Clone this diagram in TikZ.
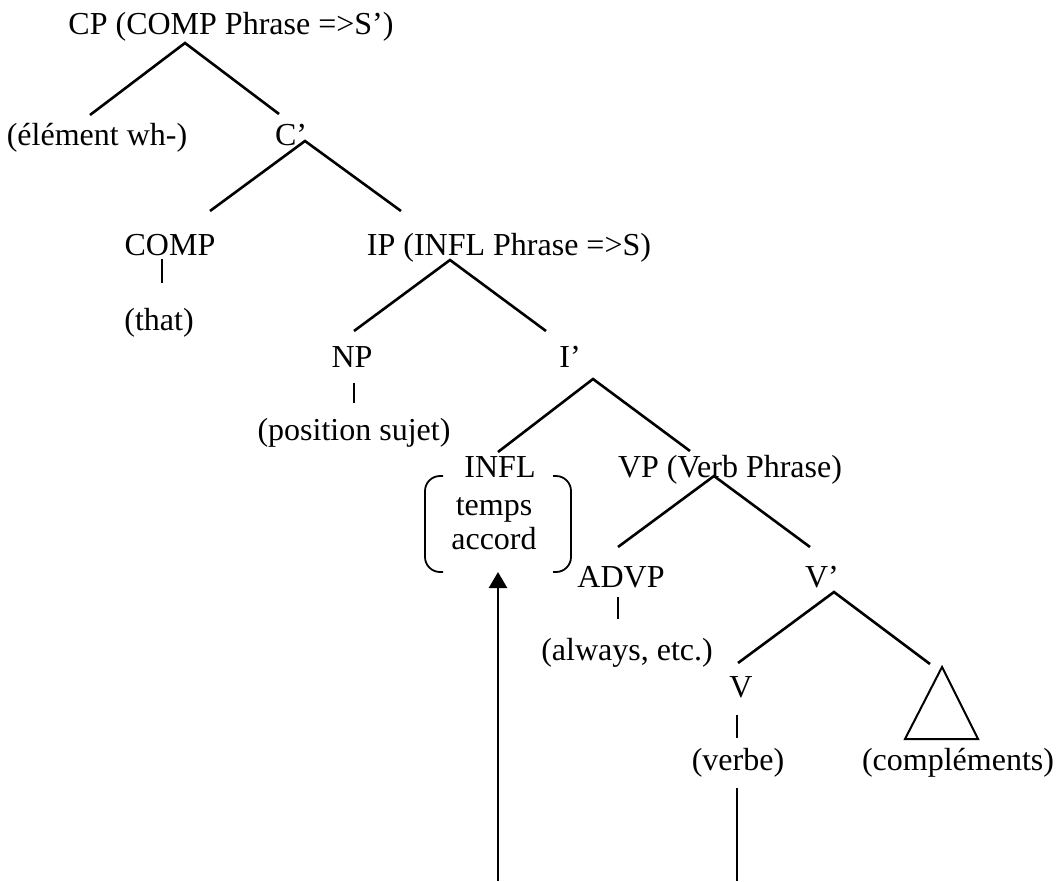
\documentclass[tikz,border=0pt]{standalone}
\usepackage{fontspec}
\setmainfont{Liberation Serif}
\usepackage{tikz}
\usetikzlibrary{arrows.meta,positioning}
\tikzset{
    >={Triangle[width=18pt,length=16pt]},
    cat/.style={
           inner sep=0pt,
           anchor=base,
           font=\fontsize{32}{38}\selectfont},
    branche/.style={
           line width=2.6pt},
    crochet/.style={
           line width=1.8pt,
           rounded corners=15pt},
    fleche/.style={
           ->,
           line width=2.6pt}
}
\begin{document}
\begin{tikzpicture}[x=1pt, y=-1pt]
        \useasboundingbox (0,0) rectangle (1062,881);
        \node[cat] (cp) at (231,34) {CP (COMP Phrase =>S’)};
        \node[cat] (elem) at (97,145) {(élément wh-)};
        \node[cat] (cbar) at (291,145) {C’};
        \node[cat] (comp) at (170,255) {COMP};
        \node[cat] (that) at (159,330) {(that)};
        \node[cat] (ip) at (509,255) {IP (INFL Phrase =>S)};
        \node[cat] (np) at (352,367) {NP};
        \node[cat] (ibar) at (570,367) {I’};
        \node[cat] (pos) at (354,440) {(position sujet)};
        \node[cat] (infl) at (500,477) {INFL};
        \node[cat] (temps) at (494,515) {temps};
        \node[cat] (accord) at (494,549) {accord};
        \node[cat] (vp) at (730,477) {VP (Verb Phrase)};
        \node[cat] (advp) at (621,587) {ADVP};
        \node[cat] (vbar) at (822,587) {V’};
        \node[cat] (always) at (627,660) {(always, etc.)};
        \node[cat] (v) at (741,697) {V};
        \node[cat] (verbe) at (738,770) {(verbe)};
        \node[cat] (compl) at (958,770) {(compléments)};

        % points d'attache des branches
        \coordinate (cp-j) at (185,43);
        \coordinate (elem-j) at (90,115);
        \coordinate (cbar-t) at (279,114);
        \coordinate (cbar-j) at (305,141);
        \coordinate (comp-t) at (210,211);
        \coordinate (ip-t) at (401,211);
        \coordinate (ip-j) at (450,260);
        \coordinate (np-t) at (354,331);
        \coordinate (ibar-t) at (546,331);
        \coordinate (ibar-j) at (593,379);
        \coordinate (infl-t) at (498,452);
        \coordinate (vp-t) at (690,451);
        \coordinate (vp-j) at (714,476);
        \coordinate (advp-t) at (618,547);
        \coordinate (vbar-t) at (810,547);
        \coordinate (vbar-j) at (834,592);
        \coordinate (v-t) at (738,663);
        \coordinate (tri-t) at (930,664);
        \coordinate (infl-b) at (498,572);
        \coordinate (infl-src) at (498,881);
        \coordinate (verbe-b) at (737,788);
        \coordinate (verbe-src) at (737,881);

        \draw[branche] (elem-j) -- (cp-j) -- (cbar-t);
        \draw[branche] (comp-t) -- (cbar-j) -- (ip-t);
        \draw[branche] (np-t) -- (ip-j) -- (ibar-t);
        \draw[branche] (infl-t) -- (ibar-j) -- (vp-t);
        \draw[branche] (advp-t) -- (vp-j) -- (vbar-t);
        \draw[branche] (v-t) -- (vbar-j) -- (tri-t);

        \draw[branche] (162,259) -- (162,283);
        \draw[branche] (354,383) -- (354,403);
        \draw[branche] (618,597) -- (618,619);
        \draw[branche] (737,715) -- (737,738);

        \draw[line width=2pt, line join=miter] (942,667) -- (905,739) -- (978,739) -- cycle;

        \draw[crochet] (443,476) -- (425,476) -- (425,572) -- (443,572);
        \draw[crochet] (553,476) -- (571,476) -- (571,572) -- (553,572);

        \draw[fleche] (infl-src) -- (infl-b);
        \draw[branche] (verbe-b) -- (verbe-src);
    \end{tikzpicture}
\end{document}
